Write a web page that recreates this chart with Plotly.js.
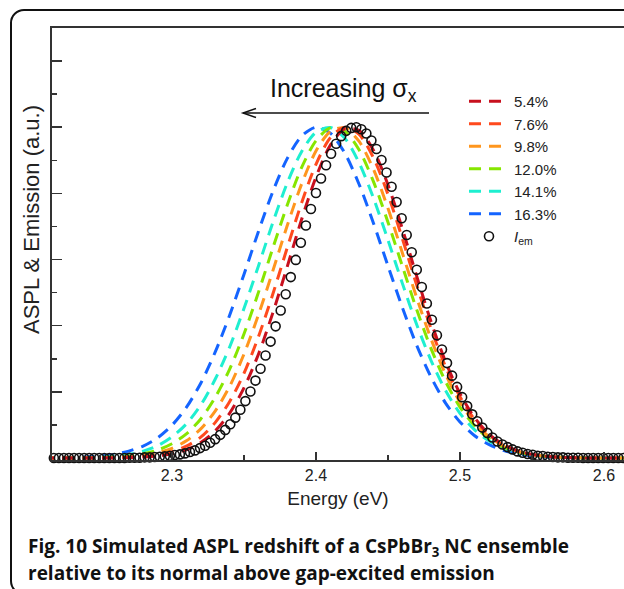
<!DOCTYPE html>
<html><head><meta charset="utf-8">
<script src="https://cdn.plot.ly/plotly-3.0.1.min.js"></script>
<style>
html,body{margin:0;padding:0;width:624px;height:589px;overflow:hidden;background:#fff;}
#chart{position:absolute;left:0;top:0;width:624px;height:589px;}
#frame{position:absolute;left:10px;top:9px;width:720px;height:586px;border:2.5px solid #111;border-radius:14px;box-sizing:border-box;pointer-events:none;}
</style></head><body>
<div id="chart"></div>
<div id="frame"></div>
<script>
// ---- data ----
const seriesNames = ['5.4%', '7.6%', '9.8%', '12.0%', '14.1%', '16.3%'];
const seriesColors = ['#c8101e', '#ff4a1e', '#ff961e', '#86e600', '#1eefd0', '#1464ff'];

const simEnergy = [2.21,2.22,2.23,2.24,2.25,2.26,2.27,2.28,2.29,2.30,2.31,2.32,2.33,2.34,2.35,2.36,2.37,2.38,2.39,2.40,2.41,2.42,2.43,2.44,2.45,2.46,2.47,2.48,2.49,2.50,2.51,2.52,2.53,2.54,2.55,2.56,2.57,2.58,2.59,2.60,2.61,2.62];

const aspl54  = [0,0,0,0,0,0,0.001,0.003,0.006,0.013,0.025,0.047,0.082,0.135,0.212,0.313,0.438,0.578,0.721,0.849,0.946,0.995,0.990,0.930,0.826,0.693,0.549,0.411,0.291,0.195,0.123,0.073,0.041,0.022,0.011,0.005,0.002,0.001,0,0,0,0];
const aspl76  = [0,0,0,0,0,0.001,0.002,0.005,0.010,0.019,0.036,0.063,0.107,0.170,0.256,0.366,0.495,0.635,0.771,0.888,0.968,1.000,0.978,0.907,0.797,0.663,0.522,0.390,0.276,0.185,0.117,0.071,0.040,0.022,0.011,0.005,0.002,0.001,0,0,0,0];
const aspl98  = [0,0,0,0,0.001,0.002,0.004,0.008,0.016,0.029,0.052,0.088,0.142,0.216,0.314,0.432,0.565,0.702,0.828,0.928,0.987,0.998,0.957,0.872,0.755,0.620,0.484,0.359,0.253,0.169,0.107,0.065,0.037,0.020,0.010,0.005,0.002,0.001,0,0,0,0];
const aspl120 = [0,0,0,0.001,0.001,0.003,0.006,0.013,0.024,0.043,0.073,0.118,0.183,0.268,0.375,0.500,0.634,0.764,0.878,0.959,0.998,0.988,0.931,0.835,0.713,0.580,0.448,0.330,0.231,0.154,0.098,0.059,0.034,0.019,0.010,0.005,0.002,0.001,0,0,0,0];
const aspl141 = [0,0,0.001,0.001,0.003,0.006,0.011,0.021,0.037,0.064,0.103,0.160,0.238,0.335,0.452,0.580,0.711,0.831,0.926,0.985,0.999,0.967,0.892,0.785,0.659,0.528,0.403,0.294,0.204,0.135,0.086,0.052,0.030,0.016,0.009,0.004,0.002,0.001,0,0,0,0];
const aspl163 = [0,0.001,0.001,0.003,0.006,0.011,0.021,0.036,0.061,0.099,0.153,0.226,0.320,0.431,0.555,0.684,0.805,0.905,0.973,1.000,0.982,0.922,0.827,0.709,0.581,0.455,0.340,0.244,0.166,0.109,0.068,0.041,0.023,0.013,0.007,0.003,0.002,0.001,0,0,0,0];

const emEnergy = [2.2180,2.2215,2.2250,2.2285,2.2320,2.2355,2.2390,2.2425,2.2460,2.2495,2.2530,2.2565,2.2600,2.2635,2.2670,2.2705,2.2740,2.2775,2.2810,2.2845,2.2880,2.2915,2.2950,2.2985,2.3020,2.3055,2.3090,2.3125,2.3160,2.3195,2.3230,2.3265,2.3300,2.3335,2.3370,2.3405,2.3440,2.3475,2.3510,2.3545,2.3580,2.3615,2.3650,2.3685,2.3720,2.3755,2.3790,2.3825,2.3860,2.3895,2.3930,2.3965,2.4000,2.4035,2.4070,2.4105,2.4140,2.4175,2.4210,2.4245,2.4280,2.4315,2.4350,2.4385,2.4420,2.4455,2.4490,2.4525,2.4560,2.4595,2.4630,2.4665,2.4700,2.4735,2.4770,2.4805,2.4840,2.4875,2.4910,2.4945,2.4980,2.5015,2.5050,2.5085,2.5120,2.5155,2.5190,2.5225,2.5260,2.5295,2.5330,2.5365,2.5400,2.5435,2.5470,2.5505,2.5540,2.5575,2.5610,2.5645,2.5680,2.5715,2.5750,2.5785,2.5820,2.5855,2.5890,2.5925,2.5960,2.5995,2.6030,2.6065,2.6100,2.6135];
const emIntensity = [0,0,0,0,0,0,0,0,0,0,0,0,0,0,0,
0.001,0.001,0.001,0.002,0.002,0.003,0.004,0.005,0.007,0.009,0.011,0.014,0.018,0.023,0.030,0.037,0.046,0.057,0.070,0.085,0.102,0.122,0.146,0.172,0.201,0.234,0.270,0.310,0.352,0.398,0.446,0.495,0.547,0.599,0.651,0.703,0.753,0.801,0.845,0.885,0.920,0.950,0.973,0.989,0.998,1.000,0.994,0.981,0.960,0.934,0.901,0.863,0.820,0.774,0.725,0.674,0.622,0.569,0.517,0.467,0.418,0.371,0.328,0.287,0.249,0.215,0.184,0.157,0.132,0.111,0.092,0.076,0.062,0.050,0.041,0.033,0.026,0.020,0.016,0.012,0.010,0.007,0.006,0.004,0.003,0.002,0.002,0.001,0.001,0.001,
0,0,0,0,0,0,0,0,0];

const xTickVals = [2.3, 2.4, 2.5, 2.6];
const xTickLabels = ['2.3', '2.4', '2.5', '2.6'];
const xMinorVals = [2.25, 2.35, 2.45, 2.55];
const yTickVals = [0.2, 0.4, 0.6, 0.8, 1.0, 1.2];
const yMinorVals = [0.1, 0.3, 0.5, 0.7, 0.9, 1.1];

// ---- build traces ----
const simSeries = [aspl54, aspl76, aspl98, aspl120, aspl141, aspl163];
const traces = [];
for (let i = simSeries.length - 1; i >= 0; i--) {
  traces.push({
    type: 'scatter', mode: 'lines', x: simEnergy, y: simSeries[i],
    name: seriesNames[i], legendrank: i + 1,
    line: {color: seriesColors[i], width: 3, dash: '12px,8px', shape: 'spline', smoothing: 0.8}
  });
}
traces.push({
  type: 'scatter', mode: 'markers', x: emEnergy, y: emIntensity,
  name: '<i>I</i><sub>em</sub>', legendrank: 7, cliponaxis: false,
  marker: {symbol: 'circle-open', size: 9, color: '#111', line: {width: 1.6, color: '#111'}}
});

const FONT = 'Liberation Sans, Arial, sans-serif';
const L = 52, T = 28, PW = 572, PH = 432;
const px = v => (v - L) / PW;
const py = v => (T + PH - v) / PH;

const layout = {
  width: 624, height: 589,
  margin: {l: L, r: 0, t: T, b: 589 - T - PH},
  paper_bgcolor: 'rgba(0,0,0,0)', plot_bgcolor: 'rgba(0,0,0,0)',
  font: {family: FONT, color: '#222'},
  showlegend: true,
  legend: {x: px(464), y: py(85), xanchor: 'left', yanchor: 'top', bgcolor: 'rgba(0,0,0,0)',
           font: {family: FONT, size: 15, color: '#222'}, itemwidth: 40, traceorder: 'normal'},
  xaxis: {
    range: [2.2167, 2.6139], showline: true, linecolor: '#333', linewidth: 2, mirror: true,
    ticks: 'inside', ticklen: 8, tickwidth: 1.5, tickcolor: '#333',
    tickmode: 'array', tickvals: xTickVals, ticktext: xTickLabels,
    minor: {tickmode: 'array', tickvals: xMinorVals, ticks: 'inside', ticklen: 5, tickwidth: 1.5, tickcolor: '#333', showgrid: false},
    showgrid: false, zeroline: false,
    tickfont: {family: FONT, size: 16, color: '#222'},
    title: {text: 'Energy (eV)', font: {family: FONT, size: 19, color: '#222'}, standoff: 8}
  },
  yaxis: {
    range: [-0.006, 1.3], showline: true, linecolor: '#333', linewidth: 2, mirror: false,
    ticks: 'inside', ticklen: 10, tickwidth: 1.5, tickcolor: '#333',
    tickmode: 'array', tickvals: yTickVals, showticklabels: false,
    minor: {tickmode: 'array', tickvals: yMinorVals, ticks: 'inside', ticklen: 5, tickwidth: 1.5, tickcolor: '#333', showgrid: false},
    showgrid: false, zeroline: false
  },
  annotations: [
    {text: 'ASPL &amp; Emission (a.u.)', xref: 'paper', yref: 'paper', x: px(31), y: py(220),
     xanchor: 'center', yanchor: 'middle', textangle: -90, showarrow: false,
     font: {family: FONT, size: 22, color: '#222'}},
    {text: 'Increasing σ<sub>x</sub>', xref: 'paper', yref: 'paper', x: px(343), y: py(90),
     xanchor: 'center', yanchor: 'middle', showarrow: false, font: {family: FONT, size: 25, color: '#111'}},
    {text: '<b>Fig. 10 Simulated ASPL redshift of a CsPbBr<sub>3</sub> NC ensemble</b>', xref: 'paper', yref: 'paper',
     x: px(26), y: py(547), xanchor: 'left', yanchor: 'middle', showarrow: false,
     font: {family: 'Open Sans, sans-serif', size: 19, color: '#111'}},
    {text: '<b>relative to its normal above gap-excited emission</b>', xref: 'paper', yref: 'paper',
     x: px(26), y: py(573), xanchor: 'left', yanchor: 'middle', showarrow: false,
     font: {family: 'Open Sans, sans-serif', size: 19, color: '#111'}}
  ],
  shapes: [
    {type: 'line', xref: 'paper', yref: 'paper', x0: px(429), x1: px(243), y0: py(113), y1: py(113),
     line: {color: '#111', width: 1.5}},
    {type: 'path', xref: 'paper', yref: 'paper',
     path: `M${px(256)},${py(108.5)} L${px(243)},${py(113)} L${px(256)},${py(117.5)}`,
     line: {color: '#111', width: 1.5}}
  ]
};

Plotly.newPlot('chart', traces, layout, {staticPlot: true, displayModeBar: false});
</script>
</body></html>
